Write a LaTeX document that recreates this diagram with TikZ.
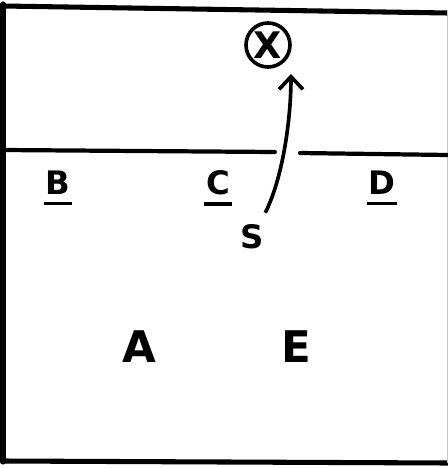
\documentclass[tikz,border=0pt]{standalone}
\usepackage{fontspec}
\setmainfont{DejaVu Sans}
\usepackage{tikz}
\usetikzlibrary{positioning,arrows.meta,calc}

\begin{document}
\begin{tikzpicture}[
  x=0.025cm, y=-0.025cm,
  wall/.style={line width=3.6pt, line cap=round},
  net/.style={line width=3pt, line cap=round},
  player/.style={font=\bfseries\fontsize{23}{23}\selectfont, inner sep=1pt},
  back/.style={font=\bfseries\fontsize{31}{31}\selectfont, inner sep=1pt},
  ulabel/.style={player, append after command={
      ([yshift=-5pt]\tikzlastnode.south west) edge[line width=2.4pt] ([yshift=-5pt]\tikzlastnode.south east)}},
  target/.style={circle, draw, line width=2.6pt, minimum size=1.1cm, inner sep=0pt,
      font=\bfseries\fontsize{26}{26}\selectfont},
  move/.style={line width=2.6pt, -{Straight Barb[length=9pt,width=17pt,line width=2.6pt]}}
]
  \useasboundingbox (0,0) rectangle (448,468);

  % court
  \draw[wall] (3,6) -- (448,13);
  \draw[wall] (3,4) -- (3,462);
  \draw[wall] (3,461) -- (448,463);
  \draw[gray!45, line width=0.6pt] (447,10) -- (447,463);
  \draw[net] (3,150) -- (275,152);
  \draw[net] (300,153) -- (448,155);

  % players
  \node[ulabel] (b) at (58,183) {B};
  \node[ulabel] (c) at (218,183) {C};
  \node[ulabel] (d) at (382,183) {D};
  \node[player] (s) at (252,237) {S};
  \node[back] (a) at (139,347) {A};
  \node[back] (e) at (296,347) {E};
  \node[target] (x) at (268,45) {X};

  \coordinate (tip) at (291,74);
  \draw[move] ([yshift=0.26cm]s.north east) .. controls (284,175) and (291,115) .. (tip);
\end{tikzpicture}
\end{document}
